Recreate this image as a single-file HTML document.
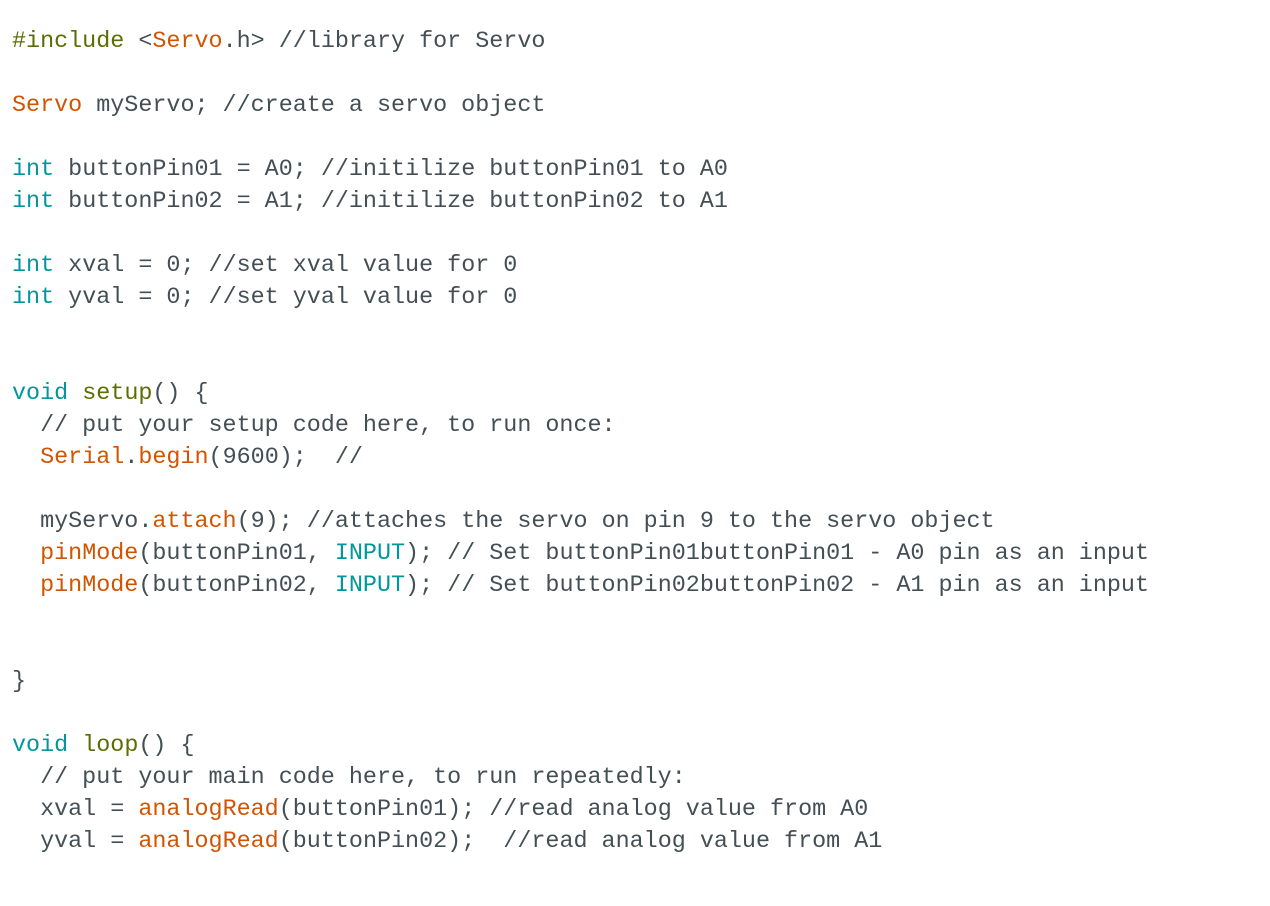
<!DOCTYPE html>
<html><head><meta charset="utf-8"><style>
html,body{margin:0;padding:0;background:#fff;width:1270px;height:906px;overflow:hidden}
pre{margin:0;position:absolute;left:12px;top:26px;font-family:"Liberation Mono",monospace;font-size:23.4px;line-height:32px;color:#434f54;white-space:pre}
.t{color:#00979c}.o{color:#d35400}.g{color:#5e6d03}
</style></head><body>
<pre><span class="g">#include</span> &lt;<span class="o">Servo</span>.h&gt; //library for Servo

<span class="o">Servo</span> myServo; //create a servo object

<span class="t">int</span> buttonPin01 = A0; //initilize buttonPin01 to A0
<span class="t">int</span> buttonPin02 = A1; //initilize buttonPin02 to A1

<span class="t">int</span> xval = 0; //set xval value for 0
<span class="t">int</span> yval = 0; //set yval value for 0


<span class="t">void</span> <span class="g">setup</span>() {
  // put your setup code here, to run once:
  <span class="o">Serial</span>.<span class="o">begin</span>(9600);  //

  myServo.<span class="o">attach</span>(9); //attaches the servo on pin 9 to the servo object
  <span class="o">pinMode</span>(buttonPin01, <span class="t">INPUT</span>); // Set buttonPin01buttonPin01 - A0 pin as an input
  <span class="o">pinMode</span>(buttonPin02, <span class="t">INPUT</span>); // Set buttonPin02buttonPin02 - A1 pin as an input


}

<span class="t">void</span> <span class="g">loop</span>() {
  // put your main code here, to run repeatedly:
  xval = <span class="o">analogRead</span>(buttonPin01); //read analog value from A0
  yval = <span class="o">analogRead</span>(buttonPin02);  //read analog value from A1
</pre>
</body></html>
